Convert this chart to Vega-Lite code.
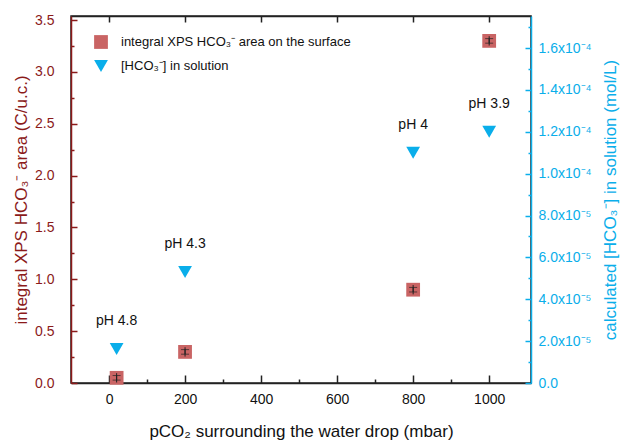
{
  "$schema": "https://vega.github.io/schema/vega-lite/v6.json",
  "width": 460,
  "height": 367,
  "autosize": {"type": "none"},
  "padding": {"left": 71, "top": 16, "right": 92, "bottom": 59},
  "background": "white",
  "config": {
    "view": {"stroke": "#222", "strokeWidth": 1.5},
    "font": "Liberation Sans",
    "axis": {"grid": false, "ticks": true, "labelFont": "Liberation Sans", "titleFont": "Liberation Sans", "labelFontSize": 14, "titleFontSize": 17, "titleFontWeight": "normal", "domainWidth": 1.5, "tickWidth": 1.5, "labelOverlap": false, "labelFlush": false},
    "legend": {"labelFont": "Liberation Sans"}
  },
  "datasets": {
    "surface": [
      {"p": 20, "value": 0.05, "err": 0.022, "lo": 0.005, "hi": 0.095, "series": "integral XPS HCO₃⁻ area on the surface"},
      {"p": 200, "value": 0.3, "err": 0.022, "lo": 0.255, "hi": 0.345, "series": "integral XPS HCO₃⁻ area on the surface"},
      {"p": 800, "value": 0.9, "err": 0.022, "lo": 0.855, "hi": 0.945, "series": "integral XPS HCO₃⁻ area on the surface"},
      {"p": 1000, "value": 3.3, "err": 0.022, "lo": 3.255, "hi": 3.345, "series": "integral XPS HCO₃⁻ area on the surface"}
    ],
    "solution": [
      {"p": 20, "value": 0.0000162, "label": "pH 4.8", "series": "[HCO₃⁻] in solution"},
      {"p": 200, "value": 0.000053, "label": "pH 4.3", "series": "[HCO₃⁻] in solution"},
      {"p": 800, "value": 0.00011, "label": "pH 4", "series": "[HCO₃⁻] in solution"},
      {"p": 1000, "value": 0.00012, "label": "pH 3.9", "series": "[HCO₃⁻] in solution"}
    ]
  },
  "layer": [
    {
      "data": {"name": "surface"},
      "encoding": {
        "x": {
          "field": "p", "type": "quantitative",
          "scale": {"domain": [-100, 1110], "nice": false, "zero": false},
          "axis": {
            "orient": "bottom",
            "values": [0, 100, 200, 300, 400, 500, 600, 700, 800, 900, 1000],
            "labelExpr": "datum.value % 200 == 0 ? format(datum.value, 'd') : ''",
            "tickSize": {"condition": {"test": "datum.value % 200 != 0", "value": -4}, "value": -8},
            "labelPadding": 17,
            "domainColor": "#222", "tickColor": "#222", "labelColor": "#111", "titleColor": "#111",
            "title": "pCO₂ surrounding the water drop (mbar)",
            "titlePadding": 13
          }
        },
        "y": {
          "field": "value", "type": "quantitative",
          "scale": {"domain": [0, 3.54], "nice": false},
          "axis": {
            "orient": "left",
            "values": [0, 0.25, 0.5, 0.75, 1, 1.25, 1.5, 1.75, 2, 2.25, 2.5, 2.75, 3, 3.25, 3.5],
            "labelExpr": "datum.value % 0.5 == 0 ? format(datum.value, '.1f') : ''",
            "tickSize": {"condition": {"test": "datum.value % 0.5 != 0", "value": -3}, "value": -6},
            "tickColor": "#8B1A1A",
            "labelPadding": 23,
            "domainColor": "#8B1A1A", "labelColor": "#8B1A1A", "titleColor": "#8B1A1A",
            "title": "integral XPS HCO₃⁻ area (C/u.c.)",
            "titlePadding": 4
          }
        }
      },
      "layer": [
        {
          "mark": {"type": "point", "filled": true, "opacity": 1, "size": 190},
          "encoding": {
            "color": {"field": "series", "type": "nominal", "scale": {"domain": ["integral XPS HCO₃⁻ area on the surface", "[HCO₃⁻] in solution"], "range": ["#C96464", "#0AAEEA"]},
              "legend": {"title": null, "orient": "none", "legendX": 22, "legendY": 18, "labelFontSize": 13, "labelLimit": 0, "labelColor": "#111", "symbolSize": 190, "rowPadding": 9, "labelOffset": 12}},
            "shape": {"field": "series", "type": "nominal", "scale": {"domain": ["integral XPS HCO₃⁻ area on the surface", "[HCO₃⁻] in solution"], "range": ["square", "triangle-down"]}}
          }
        },
        {
          "mark": {"type": "rule", "color": "#222", "strokeWidth": 1},
          "encoding": {"y": {"field": "lo", "type": "quantitative"}, "y2": {"field": "hi"}}
        },
        {
          "mark": {"type": "errorbar", "ticks": {"size": 8, "color": "#222"}, "color": "#222", "thickness": 1},
          "encoding": {"yError": {"field": "err"}}
        }
      ]
    },
    {
      "data": {"name": "solution"},
      "encoding": {
        "x": {
          "field": "p", "type": "quantitative",
          "axis": {
            "orient": "top",
            "values": [0, 200, 400, 600, 800, 1000],
            "labels": false,
            "tickSize": -6,
            "domainColor": "#222", "tickColor": "#222",
            "title": null
          }
        },
        "y": {
          "field": "value", "type": "quantitative",
          "scale": {"domain": [0, 0.0001753], "nice": false},
          "axis": {
            "orient": "right",
            "values": [0, 0.00001, 0.00002, 0.00003, 0.00004, 0.00005, 0.00006, 0.00007, 0.00008, 0.00009, 0.0001, 0.00011, 0.00012, 0.00013, 0.00014, 0.00015, 0.00016, 0.00017],
            "labelExpr": "round(datum.value*1e5) % 2 == 1 ? '' : (datum.value == 0 ? '0.0' : (datum.value < 0.000095 ? format(datum.value*1e5, '.1f') + 'x10⁻⁵' : format(datum.value*1e4, '.1f') + 'x10⁻⁴'))",
            "tickSize": {"condition": {"test": "round(datum.value*1e5) % 2 == 1", "value": -3}, "value": -6},
            "labelPadding": 13,
            "domainColor": "#0AAEEA", "tickColor": "#0AAEEA", "labelColor": "#0AAEEA", "titleColor": "#0AAEEA",
            "title": "calculated [HCO₃⁻] in solution (mol/L)",
            "titleAngle": -90,
            "titlePadding": 28
          }
        }
      },
      "layer": [
        {
          "mark": {"type": "point", "filled": true, "opacity": 1, "size": 190},
          "encoding": {
            "color": {"field": "series", "type": "nominal", "scale": {"domain": ["integral XPS HCO₃⁻ area on the surface", "[HCO₃⁻] in solution"], "range": ["#C96464", "#0AAEEA"]}},
            "shape": {"field": "series", "type": "nominal", "scale": {"domain": ["integral XPS HCO₃⁻ area on the surface", "[HCO₃⁻] in solution"], "range": ["square", "triangle-down"]}}
          }
        },
        {
          "mark": {"type": "text", "dy": -28, "fontSize": 14, "color": "#111", "font": "Liberation Sans"},
          "encoding": {"text": {"field": "label"}}
        }
      ]
    }
  ],
  "resolve": {"scale": {"y": "independent"}, "axis": {"x": "independent"}}
}
